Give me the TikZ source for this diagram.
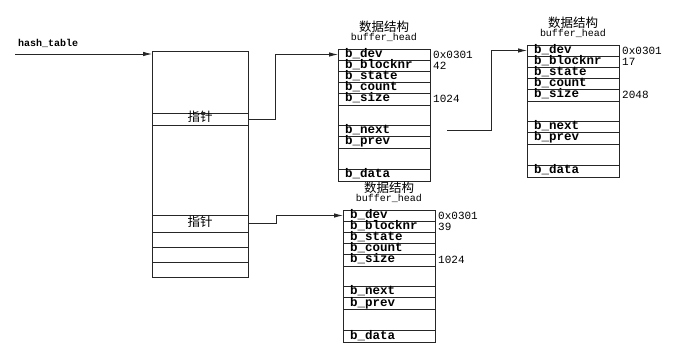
\documentclass[tikz,border=0pt]{standalone}
\usepackage{fontspec}
\setmonofont{Liberation Mono}
\newfontfamily\cjk{Noto Sans CJK SC}
\usetikzlibrary{arrows.meta}

\tikzset{
  box/.style={draw=black!85, line width=0.8pt, inner sep=0pt, outer sep=0pt},
  field/.style={box, minimum width=92pt, text width=78pt, inner xsep=7pt,
    align=left, text height=7pt, text depth=1pt,
    font=\ttfamily\bfseries\fontsize{12.5}{12.5}\selectfont},
  slot/.style={box, minimum width=96pt, text height=8pt, text depth=2pt},
  val/.style={inner sep=0pt, anchor=west, font=\ttfamily\fontsize{11}{11}\selectfont},
  cjklabel/.style={inner sep=0pt, font=\cjk\fontsize{12.5}{12.5}\selectfont},
  typelabel/.style={inner sep=0pt, font=\ttfamily\fontsize{10}{10}\selectfont},
  link/.style={draw=black!85, line width=0.8pt,
    -{Latex[length=9pt,width=4.5pt]}},
}

% One buffer_head block: #1 prefix, #2 x, #3 top y, #4 block number, #5 size
\newcommand{\bufferhead}[5]{%
  \node[field, minimum height=11pt, anchor=north west] (#1dev) at (#2,#3) {b\_dev};
  \node[field, minimum height=11pt, anchor=north] (#1blocknr) at (#1dev.south) {b\_blocknr};
  \node[field, minimum height=11pt, anchor=north] (#1state) at (#1blocknr.south) {b\_state};
  \node[field, minimum height=11pt, anchor=north] (#1count) at (#1state.south) {b\_count};
  \node[field, minimum height=12pt, anchor=north] (#1size) at (#1count.south) {b\_size};
  \node[field, minimum height=20pt, anchor=north] (#1gapa) at (#1size.south) {};
  \node[field, minimum height=11pt, anchor=north] (#1next) at (#1gapa.south) {b\_next};
  \node[field, minimum height=12pt, anchor=north] (#1prev) at (#1next.south) {b\_prev};
  \node[field, minimum height=21pt, anchor=north] (#1gapb) at (#1prev.south) {};
  \node[field, minimum height=12pt, anchor=north] (#1data) at (#1gapb.south) {b\_data};
  \node[cjklabel] (#1title) at ([yshift=22pt]#1dev.north) {数据结构};
  \node[typelabel] (#1type) at ([yshift=12pt]#1dev.north) {buffer\_head};
  \node[val] (#1devval) at ([xshift=3pt]#1dev.east) {0x0301};
  \node[val] (#1blockval) at ([xshift=3pt]#1blocknr.east) {#4};
  \node[val] (#1sizeval) at ([xshift=3pt]#1size.east) {#5};
}

\begin{document}
\begin{tikzpicture}[x=1pt, y=-1pt]
  \useasboundingbox[fill=white] (0,0) rectangle (675,358);

  % hash table column
  \node[slot, minimum height=62pt, anchor=north west] (h0) at (152,51) {};
  \node[slot, minimum height=12pt, anchor=north] (hp1) at (h0.south) {\cjk\fontsize{12.5}{12.5}\selectfont 指针};
  \node[slot, minimum height=90pt, anchor=north] (h1) at (hp1.south) {};
  \node[slot, minimum height=17pt, anchor=north] (hp2) at (h1.south) {\cjk\fontsize{12.5}{12.5}\selectfont 指针};
  \node[slot, minimum height=15pt, anchor=north] (h2) at (hp2.south) {};
  \node[slot, minimum height=15pt, anchor=north] (h3) at (h2.south) {};
  \node[slot, minimum height=15pt, anchor=north] (h4) at (h3.south) {};

  \coordinate (hstart) at (15,54);
  \node[inner sep=0pt, anchor=west, font=\ttfamily\bfseries\fontsize{10}{10}\selectfont]
    (hlabel) at (18,43) {hash\_table};

  % buffer heads
  \bufferhead{ba}{338}{49}{42}{1024}
  \bufferhead{bb}{527}{45}{17}{2048}
  \bufferhead{bc}{343}{210}{39}{1024}

  % pointers
  \draw[link] (hstart) -- (hstart -| h0.west);
  \draw[link] (hp1.east) -- ++(27,0) |- (badev.west);
  \draw[link] (hp2.east) -- ++(28,0) |- (bcdev.west);
  \draw[link] ([xshift=17pt]banext.east) -- ++(44,0) |- (bbdev.west);
\end{tikzpicture}
\end{document}
